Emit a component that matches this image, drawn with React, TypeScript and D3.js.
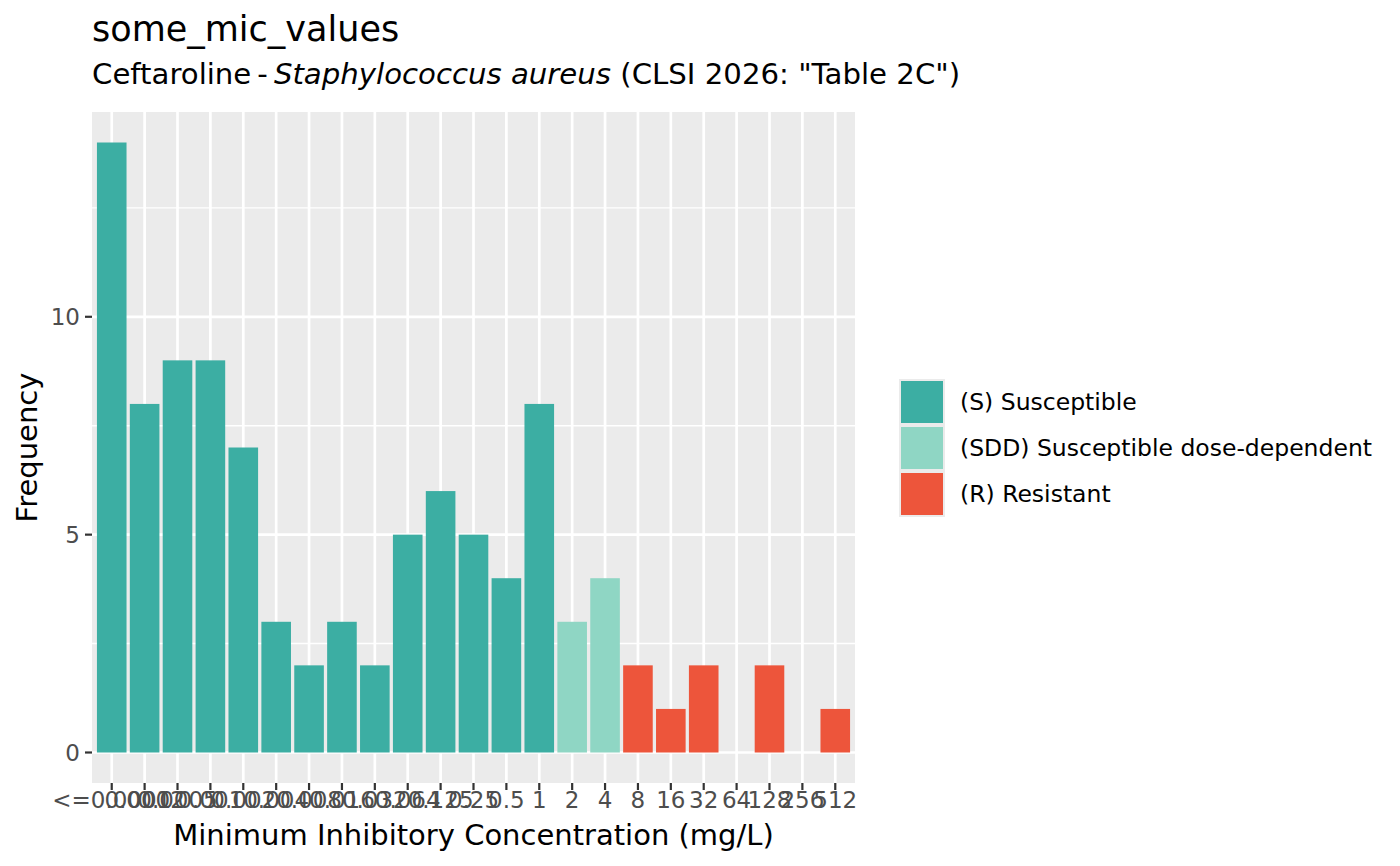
import React from 'react';
import * as d3 from 'd3';

const micLevels = [
  '<=0.0001', '0.0002', '0.0005', '0.001', '0.002', '0.004', '0.008', '0.016',
  '0.032', '0.064', '0.125', '0.25', '0.5', '1', '2', '4', '8', '16', '32',
  '64', '128', '256', '512',
];
const counts = [14, 8, 9, 9, 7, 3, 2, 3, 2, 5, 6, 5, 4, 8, 3, 4, 2, 1, 2, 0, 2, 0, 1];
const interpretation = [
  'S', 'S', 'S', 'S', 'S', 'S', 'S', 'S', 'S', 'S', 'S', 'S', 'S', 'S',
  'SDD', 'SDD', 'R', 'R', 'R', 'R', 'R', 'R', 'R',
];
const legendKeys = ['S', 'SDD', 'R'];
const legendLabels = ['(S) Susceptible', '(SDD) Susceptible dose-dependent', '(R) Resistant'];
const colours = ['#3CAEA3', '#8FD6C4', '#ED553B'];
const yTicks = [0, 5, 10];
const yMinor = [2.5, 7.5, 12.5];

const W = 1400;
const H = 866;
const font = '"DejaVu Sans", sans-serif';

const App: React.FC = () => {
  // panel box
  const panel = { left: 92, right: 855, top: 112, bottom: 783 };

  // ggplot-like discrete scale with 0.6 expansion each side
  const x = d3.scaleLinear()
    .domain([1 - 0.6, micLevels.length + 0.6])
    .range([panel.left, panel.right]);
  const step = x(2) - x(1);
  const barW = step * 0.9;

  const yMax = d3.max(counts) || 0;
  const y = d3.scaleLinear()
    .domain([-yMax * 0.05, yMax * 1.05])
    .range([panel.bottom, panel.top]);

  const fill = d3.scaleOrdinal<string, string>().domain(legendKeys).range(colours);

  const keyH = 46;
  const legendTop = 379;
  const legendLeft = 899;

  return (
    <svg width={W} height={H} style={{ position: 'absolute', left: 0, top: 0 }} fontFamily={font}>
      <rect width={W} height={H} fill="#fff" />

      {/* titles */}
      <text x={92} y={41} fontSize={35} fill="#000">some_mic_values</text>
      <text x={92} y={84} fontSize={29.2} fill="#000">
        <tspan>Ceftaroline</tspan>
        <tspan dx={6}>-</tspan>
        <tspan dx={6} fontStyle="italic">Staphylococcus aureus</tspan>
        <tspan> (CLSI 2026: "Table 2C")</tspan>
      </text>

      {/* panel */}
      <rect x={panel.left} y={panel.top} width={panel.right - panel.left}
        height={panel.bottom - panel.top} fill="#EBEBEB" />
      {yMinor.map(v => (
        <line key={'mn' + v} x1={panel.left} x2={panel.right} y1={y(v)} y2={y(v)}
          stroke="#fff" strokeWidth={1.4} />
      ))}
      {yTicks.map(v => (
        <line key={'mj' + v} x1={panel.left} x2={panel.right} y1={y(v)} y2={y(v)}
          stroke="#fff" strokeWidth={2.7} />
      ))}
      {micLevels.map((m, i) => (
        <line key={'vx' + m} x1={x(i + 1)} x2={x(i + 1)} y1={panel.top} y2={panel.bottom}
          stroke="#fff" strokeWidth={2.7} />
      ))}

      {/* bars */}
      {counts.map((c, i) => c > 0 && (
        <rect key={'bar' + i} x={x(i + 1) - barW / 2} y={y(c)} width={barW}
          height={y(0) - y(c)} fill={fill(interpretation[i])} />
      ))}

      {/* y axis */}
      {yTicks.map(v => (
        <g key={'yt' + v}>
          <line x1={panel.left - 7} x2={panel.left} y1={y(v)} y2={y(v)} stroke="#333" strokeWidth={2.2} />
          <text x={panel.left - 12} y={y(v)} dy="0.36em" textAnchor="end" fontSize={23} fill="#4D4D4D">{v}</text>
        </g>
      ))}

      {/* x axis */}
      {micLevels.map((m, i) => (
        <g key={'xt' + m}>
          <line x1={x(i + 1)} x2={x(i + 1)} y1={panel.bottom} y2={panel.bottom + 7} stroke="#333" strokeWidth={2.2} />
          <text x={x(i + 1)} y={808} textAnchor="middle" fontSize={23} fill="#4D4D4D">{m}</text>
        </g>
      ))}

      <text x={(panel.left + panel.right) / 2} y={845} textAnchor="middle" fontSize={29} fill="#000">
        Minimum Inhibitory Concentration (mg/L)
      </text>
      <text transform={`translate(37,${(panel.top + panel.bottom) / 2}) rotate(-90)`} textAnchor="middle"
        fontSize={29} fill="#000">Frequency</text>

      {/* legend */}
      <rect x={legendLeft} y={legendTop} width={46} height={keyH * 3} fill="#EBEBEB" />
      {legendKeys.map((k, i) => (
        <g key={'lg' + k}>
          <rect x={legendLeft + 2} y={legendTop + i * keyH + 2} width={42} height={keyH - 4}
            fill={fill(k)} />
          <text x={960} y={legendTop + i * keyH + keyH / 2} dy="0.36em" fontSize={23.5} fill="#000">
            {legendLabels[i]}
          </text>
        </g>
      ))}
    </svg>
  );
};

export default App;
